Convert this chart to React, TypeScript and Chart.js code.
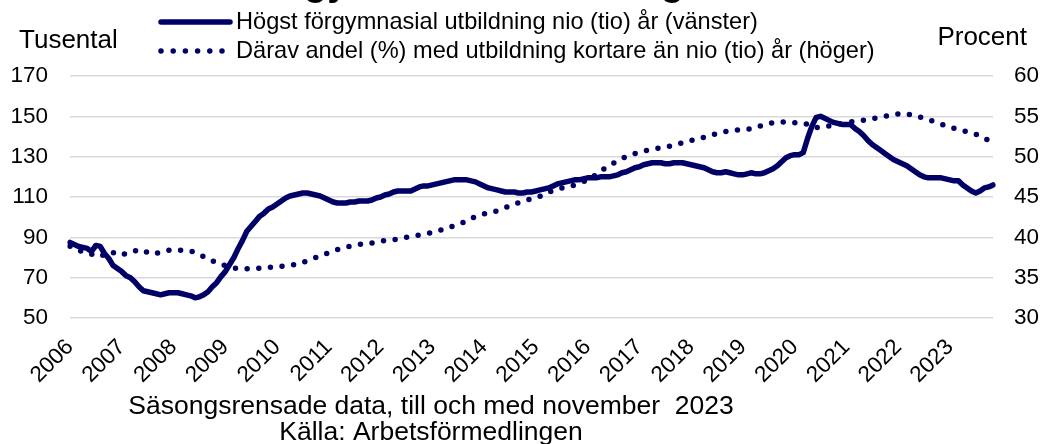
import { useEffect, useRef } from 'react';
import { Chart, registerables } from 'chart.js';

Chart.register(...registerables);

const NAVY = '#000066';
const FONT = '"Liberation Sans", Arial, Helvetica, sans-serif';

const TITLE = 'Arbetslösa med förgymnasial utbildning';
const LEFT_TITLE = 'Tusental';
const RIGHT_TITLE = 'Procent';
const SERIES_SOLID_LABEL = 'Högst förgymnasial utbildning nio (tio) år (vänster)';
const SERIES_DOTTED_LABEL = 'Därav andel (%) med utbildning kortare än nio (tio) år (höger)';
const FOOTER = ['Säsongsrensade data, till och med november  2023', 'Källa: Arbetsförmedlingen'];

const YEARS = ['2006', '2007', '2008', '2009', '2010', '2011', '2012', '2013', '2014', '2015', '2016', '2017', '2018', '2019', '2020', '2021', '2022', '2023'];
const MONTHS = ['01', '02', '03', '04', '05', '06', '07', '08', '09', '10', '11', '12'];

// Tusental (left axis), monthly Jan 2006 – Nov 2023
const HIGHEST_PRE_UPPER_SECONDARY = [
  87.5, 86.5, 85.5, 85, 84.5, 83, 86, 85.5, 82, 79.5, 76, 74.5,
  73, 71, 70, 68, 65.5, 63.5, 63, 62.5, 62, 61.5, 62, 62.5,
  62.5, 62.5, 62, 61.5, 61, 60, 60.5, 61.5, 63, 65.5, 67.5, 70.5,
  73, 76.5, 80, 84.5, 88.5, 93, 95.5, 98, 100.5, 102, 104, 105,
  106.5, 108, 109.5, 110.5, 111, 111.5, 112, 112, 111.5, 111, 110.5, 109.5,
  108.5, 107.5, 107, 107, 107, 107.5, 107.5, 108, 108, 108, 108.5, 109.5,
  110, 111, 111.5, 112.5, 113, 113, 113, 113, 114, 115, 115.5, 115.5,
  116, 116.5, 117, 117.5, 118, 118.5, 118.5, 118.5, 118.5, 118, 117.5, 116.5,
  115.5, 114.5, 114, 113.5, 113, 112.5, 112.5, 112.5, 112, 112, 112.5, 112.5,
  113, 113.5, 114, 114.5, 115.5, 116.5, 117, 117.5, 118, 118.5, 118.5, 119,
  119.5, 119.5, 119.5, 120, 120, 120, 120.5, 121, 122, 122.5, 123.5, 124.5,
  125, 126, 126.5, 127, 127, 127, 126.5, 126.5, 127, 127, 127, 126.5,
  126, 125.5, 125, 124.5, 123.5, 122.5, 122, 122, 122.5, 122, 121.5, 121,
  121, 121.5, 122, 121.5, 121.5, 122, 123, 124, 125.5, 127.5, 129.5, 130.5,
  131, 131, 132, 139, 145, 149.5, 150, 149, 148, 147, 146.5, 146,
  146, 146, 144, 142.5, 140.5, 138, 136, 134.5, 133, 131.5, 130, 128.5,
  127.5, 126.5, 125.5, 124, 122.5, 121, 120, 119.5, 119.5, 119.5, 119.5, 119,
  118.5, 118, 118, 116, 114.5, 113, 112, 113, 114.5, 115, 116,
];

// Procent (right axis)
const SHARE_SHORTER_THAN_NINE = [
  38.9, 38.7, 38.4, 38.2, 38.1, 37.9, 37.7, 37.6, 37.9, 38.2, 38.1, 37.8,
  37.8, 38.0, 38.1, 38.3, 38.5, 38.4, 38.1, 37.9, 38.0, 38.2, 38.3, 38.4,
  38.4, 38.4, 38.4, 38.4, 38.3, 38.1, 37.9, 37.6, 37.3, 37.1, 36.8, 36.6,
  36.5, 36.3, 36.2, 36.1, 36.1, 36.1, 36.1, 36.1, 36.2, 36.2, 36.3, 36.3,
  36.4, 36.4, 36.5, 36.6, 36.6, 36.8, 36.9, 37.1, 37.3, 37.5, 37.7, 37.9,
  38.1, 38.3, 38.5, 38.6, 38.8, 38.9, 39.0, 39.1, 39.2, 39.2, 39.3, 39.4,
  39.5, 39.6, 39.6, 39.7, 39.8, 39.9, 40.0, 40.1, 40.2, 40.3, 40.4, 40.5,
  40.6, 40.8, 40.9, 41.1, 41.3, 41.4, 41.6, 41.8, 42.1, 42.3, 42.6, 42.8,
  42.9, 43.0, 43.1, 43.3, 43.5, 43.7, 43.9, 44.1, 44.3, 44.5, 44.6, 44.8,
  44.9, 45.1, 45.3, 45.6, 45.8, 46.0, 46.1, 46.2, 46.3, 46.5, 46.7, 46.9,
  47.1, 47.4, 47.8, 48.1, 48.6, 48.9, 49.2, 49.5, 49.8, 50.0, 50.2, 50.4,
  50.6, 50.7, 50.8, 50.9, 51.0, 51.1, 51.2, 51.3, 51.5, 51.6, 51.7, 51.9,
  52.0, 52.1, 52.3, 52.4, 52.6, 52.7, 52.9, 53.0, 53.1, 53.2, 53.3, 53.3,
  53.3, 53.4, 53.5, 53.7, 53.8, 54.0, 54.1, 54.2, 54.3, 54.3, 54.3, 54.2,
  54.2, 54.2, 54.2, 54.0, 53.7, 53.6, 53.7, 53.8, 53.8, 53.9, 54.0, 54.1,
  54.2, 54.3, 54.4, 54.5, 54.5, 54.6, 54.7, 54.8, 54.9, 55.0, 55.1, 55.2,
  55.3, 55.4, 55.3, 55.2, 55.0, 54.9, 54.8, 54.6, 54.4, 54.2, 54.0, 53.9,
  53.7, 53.5, 53.3, 53.2, 53.1, 53.0, 52.8, 52.5, 52.2, 52.1, 52.0,
];

const LEFT_MIN = 50;
const LEFT_MAX = 170;
const LEFT_STEP = 20;
const RIGHT_MIN = 30;
const RIGHT_MAX = 60;
const RIGHT_STEP = 5;

const textPlugin = {
  id: 'extraTexts',
  afterDraw(chart: any) {
    const ctx = chart.ctx as CanvasRenderingContext2D;
    ctx.save();
    ctx.fillStyle = '#000';
    // title (mostly cropped off the top)
    ctx.font = `bold 38px ${FONT}`;
    ctx.textAlign = 'right';
    ctx.textBaseline = 'alphabetic';
    ctx.fillText(TITLE, 684, -5);

    // axis titles
    ctx.font = `26px ${FONT}`;
    ctx.textAlign = 'left';
    ctx.fillText(LEFT_TITLE, 19, 48);
    ctx.textAlign = 'right';
    ctx.fillText(RIGHT_TITLE, 1027, 45);

    // legend
    ctx.strokeStyle = NAVY;
    ctx.lineCap = 'round';
    ctx.lineWidth = 5.5;
    ctx.beginPath();
    ctx.moveTo(161, 22);
    ctx.lineTo(230, 22);
    ctx.stroke();
    ctx.lineWidth = 5.5;
    ctx.setLineDash([0, 12.2]);
    ctx.beginPath();
    ctx.moveTo(161, 51);
    ctx.lineTo(224, 51);
    ctx.stroke();
    ctx.setLineDash([]);
    ctx.font = `23.6px ${FONT}`;
    ctx.textAlign = 'left';
    ctx.textBaseline = 'middle';
    ctx.fillText(SERIES_SOLID_LABEL, 236, 22);
    ctx.fillText(SERIES_DOTTED_LABEL, 236, 51);

    // footer
    ctx.font = `26.5px ${FONT}`;
    ctx.textAlign = 'center';
    ctx.textBaseline = 'alphabetic';
    ctx.fillText(FOOTER[0], 431, 414);
    ctx.fillText(FOOTER[1], 431, 440);
    ctx.restore();
  },
};

export default function App() {
  const ref = useRef<HTMLCanvasElement>(null);

  useEffect(() => {
    if (!ref.current) return;
    const labels: string[] = [];
    YEARS.forEach((y) => MONTHS.forEach((m) => labels.push(`${y}-${m}`)));
    const cats = labels.slice(0, HIGHEST_PRE_UPPER_SECONDARY.length);

    const tickFont = { family: FONT, size: 22.5 };

    const chart = new Chart(ref.current, {
      type: 'line',
      data: {
        labels: cats,
        datasets: [
          {
            label: SERIES_SOLID_LABEL,
            data: HIGHEST_PRE_UPPER_SECONDARY,
            yAxisID: 'y',
            borderColor: NAVY,
            backgroundColor: NAVY,
            borderWidth: 5.5,
            pointRadius: 0,
            tension: 0,
            borderCapStyle: 'round',
            borderJoinStyle: 'round',
          },
          {
            label: SERIES_DOTTED_LABEL,
            data: SHARE_SHORTER_THAN_NINE,
            yAxisID: 'y1',
            borderColor: NAVY,
            backgroundColor: NAVY,
            borderWidth: 5.5,
            borderDash: [0, 11.7],
            borderCapStyle: 'round',
            borderJoinStyle: 'round',
            pointRadius: 0,
            tension: 0,
          },
        ],
      },
      options: {
        responsive: false,
        animation: false,
        devicePixelRatio: 1,
        layout: { padding: { top: 76, left: 0, right: 0, bottom: 0 } },
        plugins: {
          legend: { display: false },
          tooltip: { enabled: false },
          title: { display: false },
        },
        scales: {
          x: {
            type: 'category',
            grid: { display: false, drawTicks: false },
            border: { display: false },
            ticks: {
              autoSkip: false,
              maxRotation: 45,
              minRotation: 45,
              padding: 16,
              color: '#000',
              font: tickFont,
              callback: (_v: any, i: number) => (i % 12 === 0 ? YEARS[i / 12] : null),
            },
            afterFit: (s: any) => {
              s.height = 126;
            },
          },
          y: {
            position: 'left',
            min: LEFT_MIN,
            max: LEFT_MAX,
            ticks: { stepSize: LEFT_STEP, padding: 22, color: '#000', font: tickFont },
            grid: { color: '#d9d9d9', lineWidth: 1.5, drawTicks: false },
            border: { display: false },
            afterFit: (s: any) => {
              s.width = 70;
            },
          },
          y1: {
            position: 'right',
            min: RIGHT_MIN,
            max: RIGHT_MAX,
            ticks: { stepSize: RIGHT_STEP, padding: 21, color: '#000', font: tickFont },
            grid: { display: false, drawTicks: false },
            border: { display: false },
            afterFit: (s: any) => {
              s.width = 50;
            },
          },
        },
      },
      plugins: [textPlugin],
    } as any);

    return () => chart.destroy();
  }, []);

  return (
    <div style={{ position: 'absolute', left: 0, top: 0, width: 1043, height: 444, background: '#fff' }}>
      <canvas ref={ref} width={1043} height={444} style={{ display: 'block' }} />
    </div>
  );
}
